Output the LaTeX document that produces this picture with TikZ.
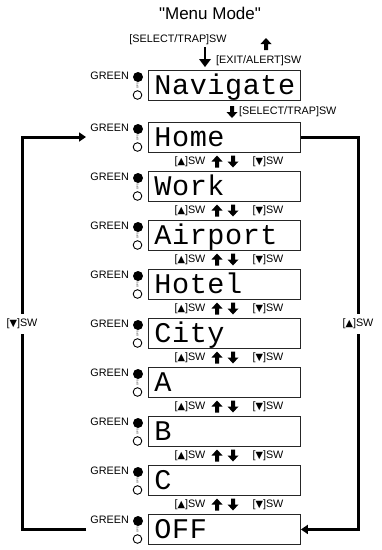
\documentclass[tikz,border=0pt]{standalone}
\usepackage{fontspec}
\setmainfont{Liberation Sans}
\newfontfamily\titlefont{Liberation Sans}
\newfontfamily\lcdfont[LetterSpace=2]{Liberation Mono}
\newfontfamily\symfont{DejaVu Sans}
\usetikzlibrary{arrows.meta}
\newcommand{\upsw}{[{\symfont\scalebox{0.9}{▲}}]SW}
\newcommand{\dnsw}{[{\symfont\scalebox{0.9}{▼}}]SW}
\tikzset{
  lcd/.style={draw=black!85, line width=0.9pt, anchor=north west, minimum width=152pt, minimum height=30pt,
    text width=140pt, align=left, inner xsep=6pt, inner ysep=0pt, text height=18pt, text depth=0pt,
    font=\lcdfont\fontsize{28.5}{30}\selectfont},
  lab/.style={inner sep=0pt, font=\fontsize{10.8}{12}\selectfont},
  tinylab/.style={inner sep=0pt, font=\fontsize{2.5}{3}\selectfont, rotate=90},
  conn/.style={line width=3pt, black},
  tip/.style={-{Triangle[width=9pt,length=7pt]}},
  uparr/.pic={\fill (0,-6) -- (5.5,0) -- (2,0) -- (2,6) -- (-2,6) -- (-2,0) -- (-5.5,0) -- cycle;},
  dnarr/.pic={\fill (0,6) -- (5.5,0) -- (2,0) -- (2,-6) -- (-2,-6) -- (-2,0) -- (-5.5,0) -- cycle;},
}
\begin{document}
\begin{tikzpicture}[x=1pt,y=-1pt]
\useasboundingbox (0,0) rectangle (382,550);
% title and top labels
\node[inner sep=0pt, font=\titlefont\fontsize{17}{19}\selectfont] (title) at (210,13) {"Menu Mode"};
\node[lab] (sel1) at (178,40) {[SELECT/TRAP]SW};
\node[lab, anchor=west] (exit) at (216,61) {[EXIT/ALERT]SW};
\fill (203.6,47) rectangle (206.4,60);
\fill (199,59) -- (211,59) -- (205,67) -- cycle;
\pic at (266,44) {uparr};
% rows
\foreach \n/\t/\s in {nav/70/Navigate, home/122/Home, work/171/Work, air/220/Airport, hotel/269/Hotel,
    city/318/City, a/367/A, b/416/B, c/465/C, off/514/OFF} {
  \node[lcd] (\n) at (148,\t) {\s};
  \node[lab, anchor=east] (g\n) at (129,\t+6) {GREEN};
  \fill (138,\t+7) circle (5);
  \draw[line width=0.9pt] (137.5,\t+25) circle (4.3);
  \node[tinylab] (t\n) at (137.5,\t+15.5) {GPS};
}
% select below navigate
\pic at (232,112) {dnarr};
\node[lab, anchor=west] (sel2) at (239,112) {[SELECT/TRAP]SW};
% between rows
\foreach \t in {122,171,220,269,318,367,416,465} {
  \node[lab] at (190,\t+39.5) {\upsw};
  \pic at (217,\t+39.5) {uparr};
  \pic at (233,\t+39.5) {dnarr};
  \node[lab] at (268,\t+39.5) {\dnsw};
}
% side connectors
\coordinate (lh) at (86,137);
\coordinate (lo) at (86,529);
\node[lab] (lblL) at (22,324) {\dnsw};
\node[lab] (lblR) at (358,324) {\upsw};
\draw[conn] (lo) -| ([yshift=-5pt]lblL.south);
\draw[conn, tip] ([yshift=5pt]lblL.north) |- (lh);
\draw[conn] (home.east) -| ([yshift=5pt]lblR.north);
\draw[conn, tip] ([yshift=-5pt]lblR.south) |- (off.east);
\end{tikzpicture}
\end{document}
